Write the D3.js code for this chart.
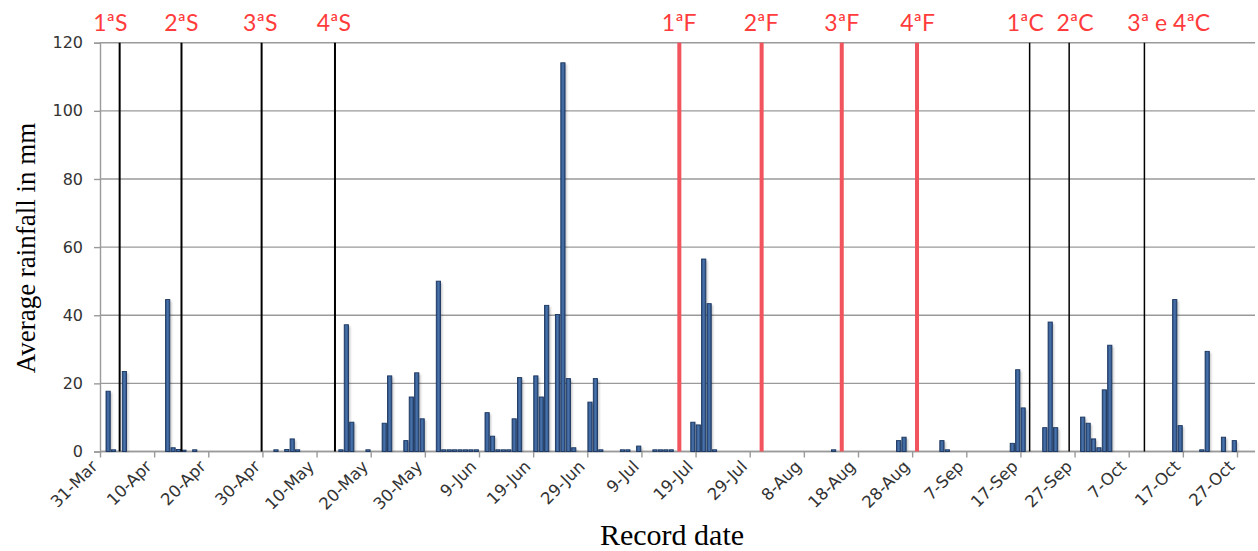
<!DOCTYPE html>
<html><head><meta charset="utf-8">
<script src="https://cdn.jsdelivr.net/npm/d3@7/dist/d3.min.js"></script>
<style>body{margin:0;background:#fff}svg{display:block}</style>
</head><body><svg id="c" width="1258" height="551"></svg>
<script>
// ---- data ----
const rainDates = ["2013-04-01","2013-04-02","2013-04-04","2013-04-12","2013-04-13","2013-04-14","2013-04-15","2013-04-17",
"2013-05-02","2013-05-04","2013-05-05","2013-05-06","2013-05-14","2013-05-15","2013-05-16","2013-05-19","2013-05-22","2013-05-23",
"2013-05-26","2013-05-27","2013-05-28","2013-05-29","2013-06-01","2013-06-02","2013-06-03","2013-06-04","2013-06-05","2013-06-06",
"2013-06-07","2013-06-08","2013-06-10","2013-06-11","2013-06-12","2013-06-13","2013-06-14","2013-06-15","2013-06-16","2013-06-19",
"2013-06-20","2013-06-21","2013-06-23","2013-06-24","2013-06-25","2013-06-26","2013-06-29","2013-06-30","2013-07-01","2013-07-05",
"2013-07-06","2013-07-08","2013-07-11","2013-07-12","2013-07-13","2013-07-14","2013-07-18","2013-07-19","2013-07-20","2013-07-21",
"2013-07-22","2013-08-13","2013-08-25","2013-08-26","2013-09-02","2013-09-03","2013-09-15","2013-09-16","2013-09-17","2013-09-21",
"2013-09-22","2013-09-23","2013-09-28","2013-09-29","2013-09-30","2013-10-01","2013-10-02","2013-10-03","2013-10-15","2013-10-16",
"2013-10-20","2013-10-21","2013-10-24","2013-10-26"];
const rainValues = [17.7,0.5,23.5,44.6,1.1,0.6,0.4,0.5,
0.5,0.6,3.7,0.5,0.5,37.2,8.6,0.5,8.3,22.2,
3.2,16.0,23.1,9.6,50.0,0.5,0.5,0.5,0.5,0.5,
0.5,0.5,11.4,4.5,0.5,0.5,0.5,9.6,21.7,22.2,
16.0,42.9,40.2,114.1,21.4,1.1,14.5,21.4,0.5,0.5,
0.5,1.6,0.5,0.5,0.5,0.5,8.6,7.8,56.5,43.4,
0.5,0.5,3.2,4.2,3.2,0.5,2.4,24.0,12.8,7.0,
38.0,7.0,10.1,8.3,3.7,1.1,18.1,31.2,44.6,7.6,
0.5,29.4,4.2,3.2];
const tickDates = ["2013-03-31","2013-04-10","2013-04-20","2013-04-30","2013-05-10","2013-05-20","2013-05-30","2013-06-09",
"2013-06-19","2013-06-29","2013-07-09","2013-07-19","2013-07-29","2013-08-08","2013-08-18","2013-08-28","2013-09-07",
"2013-09-17","2013-09-27","2013-10-07","2013-10-17","2013-10-27"];
const yTicks = [0,20,40,60,80,100,120];
// event markers: days after 31-Mar
const eventDays   = [3.63,15.05,29.85,43.4,107.0,122.2,137.0,150.9,171.7,179.0,192.9];
const eventKind   = ["S","S","S","S","F","F","F","F","C","C","C"];
const labelTexts  = ["1ªS","2ªS","3ªS","4ªS","1ªF","2ªF","3ªF","4ªF","1ªC","2ªC","3ª e 4ªC"];
const labelDays   = [1.92,15.03,29.6,43.2,106.98,122.1,137.0,151.0,170.9,180.1,197.4];

// ---- chart ----
const svg = d3.select("#c");
const parse = d3.timeParse("%Y-%m-%d");
const t0 = parse("2013-03-31");
const dayDate = d => new Date(t0.getTime() + d*864e5);
const x = d3.scaleTime().domain([t0, parse("2013-10-27")]).range([100, 1237]);
const y = d3.scaleLinear().domain([0,120]).range([451.5, 42.7]);
const left = 100, right = 1255;

// gridlines
svg.append("g").selectAll("line").data(yTicks).join("line")
  .attr("x1", left).attr("x2", right).attr("y1", d=>y(d)).attr("y2", d=>y(d))
  .attr("stroke", "#9a9a9a").attr("stroke-width", 1.4);

// y axis
const yAx = svg.append("g").attr("transform", `translate(${left},0)`)
  .call(d3.axisLeft(y).tickValues(yTicks).tickSize(6).tickPadding(11));
yAx.select(".domain").attr("stroke","#9a9a9a").attr("stroke-width",1.4);
yAx.selectAll(".tick line").attr("stroke","#9a9a9a").attr("stroke-width",1.4);
yAx.selectAll("text").attr("font-family","DejaVu Sans").attr("font-size",16).attr("fill","#333");

// x axis
const xAx = svg.append("g").attr("transform", `translate(0,${y(0)})`)
  .call(d3.axisBottom(x).tickValues(tickDates.map(parse)).tickSize(6).tickFormat(d3.timeFormat("%-d-%b")));
xAx.select(".domain").remove();
svg.append("line").attr("x1",left).attr("x2",right).attr("y1",y(0)).attr("y2",y(0))
  .attr("stroke","#9a9a9a").attr("stroke-width",1.4);
xAx.selectAll(".tick line").attr("stroke","#9a9a9a").attr("stroke-width",1.4);
xAx.selectAll(".tick text").attr("font-family","DejaVu Sans").attr("font-size",16.5).attr("fill","#333")
  .attr("text-anchor","end").attr("dy",0).attr("y",0)
  .attr("transform","translate(-2,16) rotate(-45)");

// bars
const slot = x(dayDate(1)) - x(t0);
const bw = slot*0.78;
const defs = svg.append("defs");
defs.append("filter").attr("id","sh").attr("x","-50%").attr("width","200%")
  .append("feGaussianBlur").attr("stdDeviation",1);
const g = defs.append("linearGradient").attr("id","bg").attr("x1",0).attr("x2",1);
g.append("stop").attr("offset","0%").attr("stop-color","#2a4d80");
g.append("stop").attr("offset","50%").attr("stop-color","#4a74ad");
g.append("stop").attr("offset","100%").attr("stop-color","#2a4d80");
const rain = rainDates.map((d,i)=>({date:parse(d), v:rainValues[i]}));
const bars = svg.append("g");
bars.selectAll("rect.s").data(rain).join("rect").attr("class","s")
  .attr("x", d=>x(d.date)+(slot-bw)/2+1.8).attr("width", bw)
  .attr("y", d=>y(d.v)+1.5).attr("height", d=>Math.max(0,y(0)-y(d.v)-1.5))
  .attr("fill","#000").attr("opacity",0.22).attr("filter","url(#sh)");
bars.selectAll("rect.b").data(rain).join("rect").attr("class","b")
  .attr("x", d=>x(d.date)+(slot-bw)/2).attr("width", bw)
  .attr("y", d=>y(d.v)).attr("height", d=>y(0)-y(d.v))
  .attr("fill","url(#bg)").attr("stroke","#1b365f").attr("stroke-width",0.9);

// event lines
svg.append("g").selectAll("line").data(eventDays.map((d,i)=>({d, k:eventKind[i]}))).join("line")
  .attr("x1", e=>x(dayDate(e.d))).attr("x2", e=>x(dayDate(e.d)))
  .attr("y1", y(120)).attr("y2", y(0))
  .attr("stroke", e=>e.k==="F" ? "#f2545e" : "#000")
  .attr("stroke-width", e=>e.k==="F" ? 4 : (e.k==="S" ? 2 : 1.5));

// event labels
svg.append("g").selectAll("text").data(labelTexts.map((t,i)=>({t, d:labelDays[i]}))).join("text")
  .attr("x", e=>x(dayDate(e.d))).attr("y", 31).attr("text-anchor","middle")
  .attr("font-family","Lato").attr("font-size",23).attr("fill","#ff3b3b").text(e=>e.t);

// axis titles
svg.append("text").attr("transform","translate(35,248) rotate(-90)").attr("text-anchor","middle")
  .attr("font-family","Liberation Serif").attr("font-size",27).attr("fill","#000").text("Average rainfall in mm");
svg.append("text").attr("x",672).attr("y",545).attr("text-anchor","middle")
  .attr("font-family","Liberation Serif").attr("font-size",30).attr("fill","#000").text("Record date");
</script></body></html>
